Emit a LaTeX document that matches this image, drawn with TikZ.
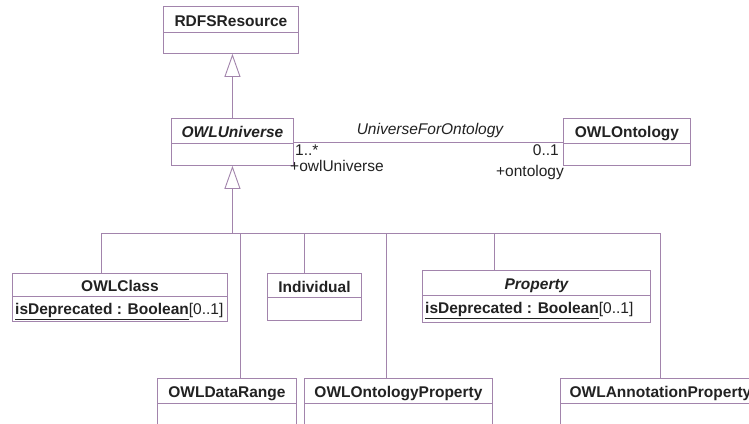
\documentclass[tikz,border=0pt]{standalone}
\usepackage{fontspec}
\setmainfont{Liberation Sans}
\usetikzlibrary{arrows.meta,calc}
\definecolor{umlline}{RGB}{162,132,172}
\definecolor{umltext}{RGB}{34,34,34}
\newcommand\umlclass[8]{%
  \node[box, minimum width=#4pt, minimum height=#5pt] (#1) at (#2,#3) {};
  \draw[conn] ([yshift=-#6pt]#1.north west) -- ([yshift=-#6pt]#1.north east);
  \node[ttl] (#1-t) at ([yshift={-0.5*#6pt-1.5pt}]#1.north) {#7};
  \ifx\relax#8\relax\else
  \node[attr] (#1-a) at ([xshift=3pt,yshift={-#6pt-18.5pt}]#1.north west) {#8};
  \fi
}
\newcommand\isdep{\underline{\textbf{isDeprecated : Boolean}}[0..1]}
\begin{document}
\begin{tikzpicture}[x=1pt,y=-1pt,
  font=\fontsize{15.5}{18}\selectfont, text=umltext,
  box/.style={draw=umlline, line width=0.9pt, fill=white, anchor=north west, inner sep=0pt},
  conn/.style={draw=umlline, line width=0.9pt},
  gen/.style={conn, -{Triangle[open, length=23pt, width=16pt, fill=white]}},
  ttl/.style={inner sep=0pt, anchor=center, text height=11pt, text depth=0pt, font=\fontsize{15.5}{18}\selectfont\bfseries},
  attr/.style={inner sep=0pt, anchor=base west},
  lbl/.style={inner sep=0pt}]
\fill[white] (0,0) rectangle (749,423);
\clip (0,0) rectangle (749,423);

\umlclass{rdfs}{163}{6}{135}{47}{26}{RDFSResource}{}
\umlclass{owl}{171}{118}{122}{47}{25}{\itshape OWLUniverse}{}
\umlclass{onto}{563}{118}{127}{47}{25}{OWLOntology}{}
\umlclass{owlclass}{12}{273}{215}{48}{23}{OWLClass}{\isdep}
\umlclass{indiv}{267}{273}{94}{47}{24}{Individual}{}
\umlclass{prop}{422}{270}{228}{52}{25}{\itshape Property}{\isdep}
\umlclass{drange}{157}{378}{139}{60}{25}{OWLDataRange}{}
\umlclass{oprop}{304}{378}{188}{60}{25}{OWLOntologyProperty}{}
\umlclass{aprop}{560}{378}{200}{60}{25}{OWLAnnotationProperty}{}

% generalization RDFSResource
\draw[gen] (owl.north) -- (owl.north |- rdfs.south);

% association
\draw[conn] (owl.east) -- (onto.west);
\node[lbl, anchor=base] (assoc) at (430,134) {\itshape UniverseForOntology};
\node[lbl, anchor=base west] (m1) at (295,155) {1..*};
\node[lbl, anchor=base west] (r1) at (290,171) {+owlUniverse};
\node[lbl, anchor=base east] (m2) at (559,155) {0..1};
\node[lbl, anchor=base east] (r2) at (564,176) {+ontology};

% generalization tree
\coordinate (bus) at ([yshift=-68pt]owl.south);
\draw[gen] (bus) -- (owl.south);
\draw[conn] ([xshift=89pt]owlclass.north west) |- (bus);
\draw[conn] ([xshift=37pt]indiv.north west) |- (bus);
\draw[conn] ([xshift=72pt]prop.north west) |- (bus);
\draw[conn] ([xshift=83pt]drange.north west) |- (bus);
\draw[conn] ([xshift=82pt]oprop.north west) |- (bus);
\draw[conn] ([xshift=100pt]aprop.north west) |- (bus);
\end{tikzpicture}
\end{document}
